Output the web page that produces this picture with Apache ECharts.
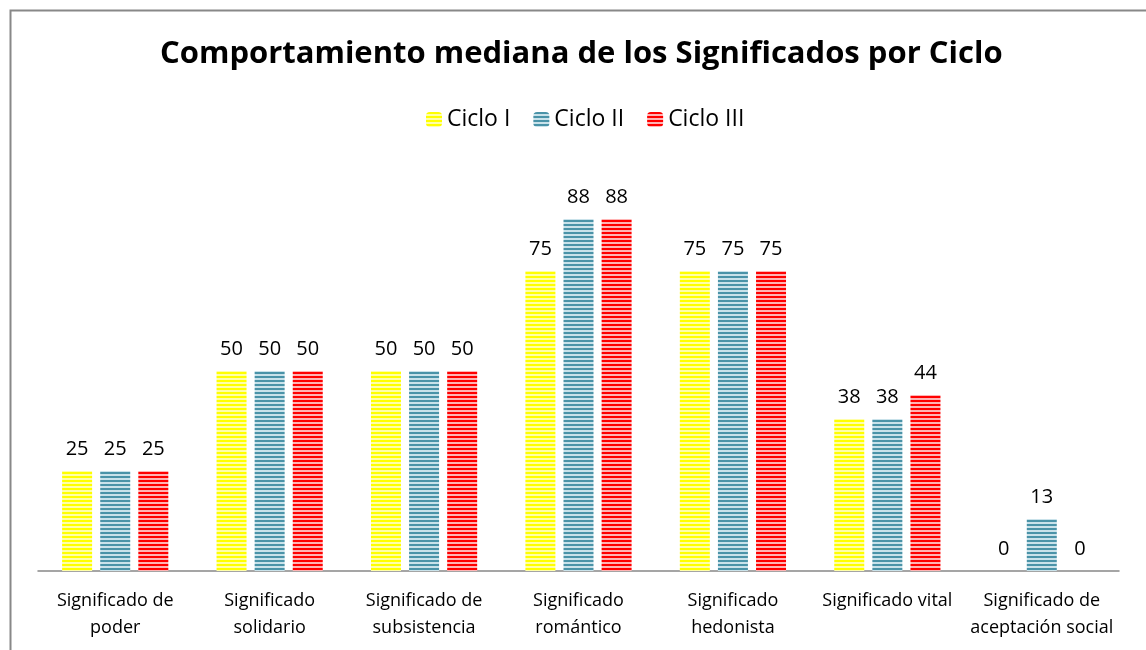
<!DOCTYPE html>
<html><head><meta charset="utf-8">
<script src="https://cdn.jsdelivr.net/npm/echarts@6/dist/echarts.min.js"></script>
<style>html,body{margin:0;padding:0;background:#fff}#c{width:1146px;height:650px}</style>
</head><body><div id="c"></div>
<script>
const categories = ["Significado de\npoder", "Significado\nsolidario", "Significado de\nsubsistencia", "Significado\nromántico", "Significado\nhedonista", "Significado vital", "Significado de\naceptación social"];
const cicloI = [25, 50, 50, 75, 75, 38, 0];
const cicloII = [25, 50, 50, 88, 75, 38, 13];
const cicloIII = [25, 50, 50, 88, 75, 44, 0];
const seriesNames = ["Ciclo I", "Ciclo II", "Ciclo III"];

function stripe(dark, light) {
  const c = document.createElement('canvas');
  c.width = 4; c.height = 4;
  const g = c.getContext('2d');
  g.fillStyle = light; g.fillRect(0, 0, 4, 4);
  g.fillStyle = dark; g.fillRect(0, 0, 4, 2);
  return { image: c, repeat: 'repeat' };
}
const pats = [stripe('#FFFF00', '#FFFFA8'), stripe('#4A93A8', '#C9E2EA'), stripe('#FF0000', '#FFB4B4')];
const font = '"Open Sans", "Noto Sans", sans-serif';
const chart = echarts.init(document.getElementById('c'));
const data = [cicloI, cicloII, cicloIII];
chart.setOption({
  animation: false,
  title: { text: 'Comportamiento mediana de los Significados por Ciclo', left: 155, top: 34,
    textStyle: { fontFamily: font, fontSize: 31, fontWeight: 'bold', color: '#000' } },
  legend: { data: seriesNames, top: 103, left: 421, itemWidth: 16, itemHeight: 15, itemGap: 23,
    textStyle: { fontFamily: font, fontSize: 23, color: '#000' } },
  graphic: [{ type: 'rect', left: 8, top: 8, shape: { width: 1300, height: 800 }, style: { fill: 'none', stroke: '#888', lineWidth: 2 } }],
  grid: { left: 38, right: 27, top: 171, bottom: 79 },
  xAxis: { type: 'category', data: categories,
    axisLine: { lineStyle: { color: '#888', width: 1.5 } }, axisTick: { show: false },
    axisLabel: { fontFamily: font, fontSize: 18, color: '#000', lineHeight: 27, margin: 16, interval: 0 } },
  yAxis: { type: 'value', min: 0, max: 100, show: false, splitLine: { show: false } },
  series: seriesNames.map((n, i) => ({
    name: n, type: 'bar', data: data[i], barWidth: 30, barGap: '27%',
    itemStyle: { color: pats[i] },
    label: { show: true, position: 'top', distance: 12, fontFamily: font, fontSize: 20, color: '#000' }
  }))
});
</script></body></html>
